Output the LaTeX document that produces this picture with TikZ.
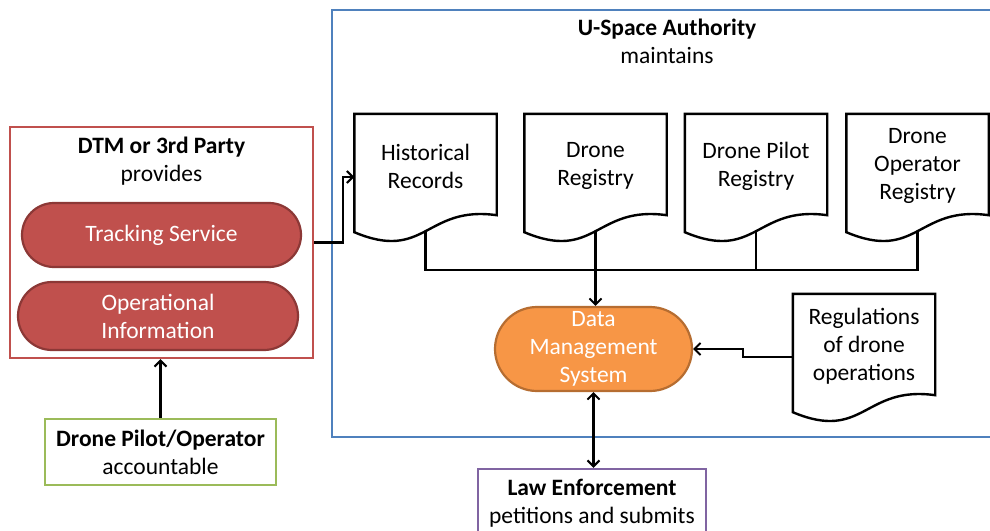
\documentclass[tikz,border=0pt]{standalone}
\usepackage{fontspec}
\setmainfont{Carlito}
\usetikzlibrary{arrows.meta,calc}

\definecolor{dtmred}{HTML}{C0504D}
\definecolor{dtmdark}{HTML}{8C3836}
\definecolor{usablue}{HTML}{4F81BD}
\definecolor{pilotgreen}{HTML}{9BBB59}
\definecolor{lawpurple}{HTML}{8064A2}
\definecolor{dmsorange}{HTML}{F79646}
\definecolor{dmsdark}{HTML}{B66D31}

\tikzset{
  txt/.style={font=\fontsize{23.5}{28}\selectfont, align=center, inner sep=0pt},
  framebox/.style={draw, line width=2.4pt, inner sep=0pt, fill=white},
  pill/.style={txt, draw, line width=2.2pt, text=white},
  docbox/.style={minimum width=142pt, minimum height=118pt, inner sep=0pt},
  docline/.style={draw=black, line width=2.4pt, fill=white, line join=miter},
  doclabel/.style={txt, yshift=7pt},
  conn/.style={draw=black, line width=2.2pt},
  tip/.style={-{Straight Barb[length=6pt,width=12pt,line width=2pt]}},
  twotip/.style={{Straight Barb[length=6pt,width=12pt,line width=2pt]}-{Straight Barb[length=6pt,width=12pt,line width=2pt]}}
}

% flowchart "document" outline with a wavy bottom edge
\newcommand\docoutline[1]{%
  \draw[docline] (#1.north west) -- (#1.north east) -- ($(#1.south east)+(0,-17)$)
    .. controls ($(#1.south)+(0,-27)$) and ($(#1.south)+(0,30)$) .. (#1.south west) -- cycle;}

\begin{document}
\begin{tikzpicture}[x=1pt,y=-1pt]
\useasboundingbox (0,0) rectangle (990,530);

% U-Space Authority frame
\node[framebox, draw=usablue, fill=none, minimum width=668pt, minimum height=427pt] (usa) at (666,223.5) {};
\node[txt] (usatitle) at (667,41.5) {\textbf{U-Space Authority}\\maintains};

% registries
\node[docbox] (hist) at (425.5,173) {};
\node[docbox] (dreg) at (595.5,173) {};
\node[docbox] (dpilot) at (756,173) {};
\node[docbox] (doper) at (917.5,173) {};
\node[docbox] (reg) at (864,353) {};
\docoutline{hist}
\docoutline{dreg}
\docoutline{dpilot}
\docoutline{doper}
\docoutline{reg}
\node[doclabel] (histtxt) at (hist) {Historical\\Records};
\node[doclabel] (dregtxt) at (dreg) {Drone\\Registry};
\node[doclabel] (dpilottxt) at (dpilot) {Drone Pilot\\Registry};
\node[doclabel] (dopertxt) at (doper) {Drone\\Operator\\Registry};
\node[doclabel] (regtxt) at (reg) {Regulations\\of drone\\operations};

% data management system
\node[pill, draw=dmsdark, fill=dmsorange, minimum width=197pt, minimum height=84pt, rounded corners=42pt] (dms) at (593.5,349) {Data\\Management\\System};

% DTM or 3rd Party frame
\node[framebox, draw=dtmred, minimum width=303pt, minimum height=231pt] (dtm) at (161.5,242.5) {};
\node[txt] (dtmtitle) at (161.5,161) {\textbf{DTM or 3rd Party}\\provides};
\node[pill, draw=dtmdark, fill=dtmred, minimum width=279pt, minimum height=64pt, rounded corners=32pt] (track) at (161.5,235) {Tracking Service};
\node[pill, draw=dtmdark, fill=dtmred, minimum width=280pt, minimum height=68pt, rounded corners=34pt] (opinfo) at (158,316) {Operational\\Information};

% actors
\node[txt, framebox, draw=pilotgreen, minimum width=231pt, minimum height=66pt] (pilot) at (160.5,452) {\textbf{Drone Pilot/Operator}\\accountable};
\node[txt, framebox, draw=lawpurple, minimum width=228pt, minimum height=68pt] (law) at (592,503) {\textbf{Law Enforcement}\\petitions and submits};

% connectors
\coordinate (bus) at (0,270);
\draw[conn] (hist.south) |- (doper.south |- bus) -- (doper.south);
\draw[conn] (dpilot.south) -- (dpilot.south |- bus);
\draw[conn, tip] (dreg.south) -- (dreg.south |- dms.north);
\draw[conn, tip] (dtm.east) -- ++(29,0) |- ($(hist.west)+(0,4)$);
\draw[conn, tip] (pilot.north) -- (pilot.north |- dtm.south);
\draw[conn, tip] ($(reg.west)+(0,4)$) -- ++(-50,0) |- (dms.east);
\draw[conn, twotip] (dms.south) -- (dms.south |- law.north);
\end{tikzpicture}
\end{document}
